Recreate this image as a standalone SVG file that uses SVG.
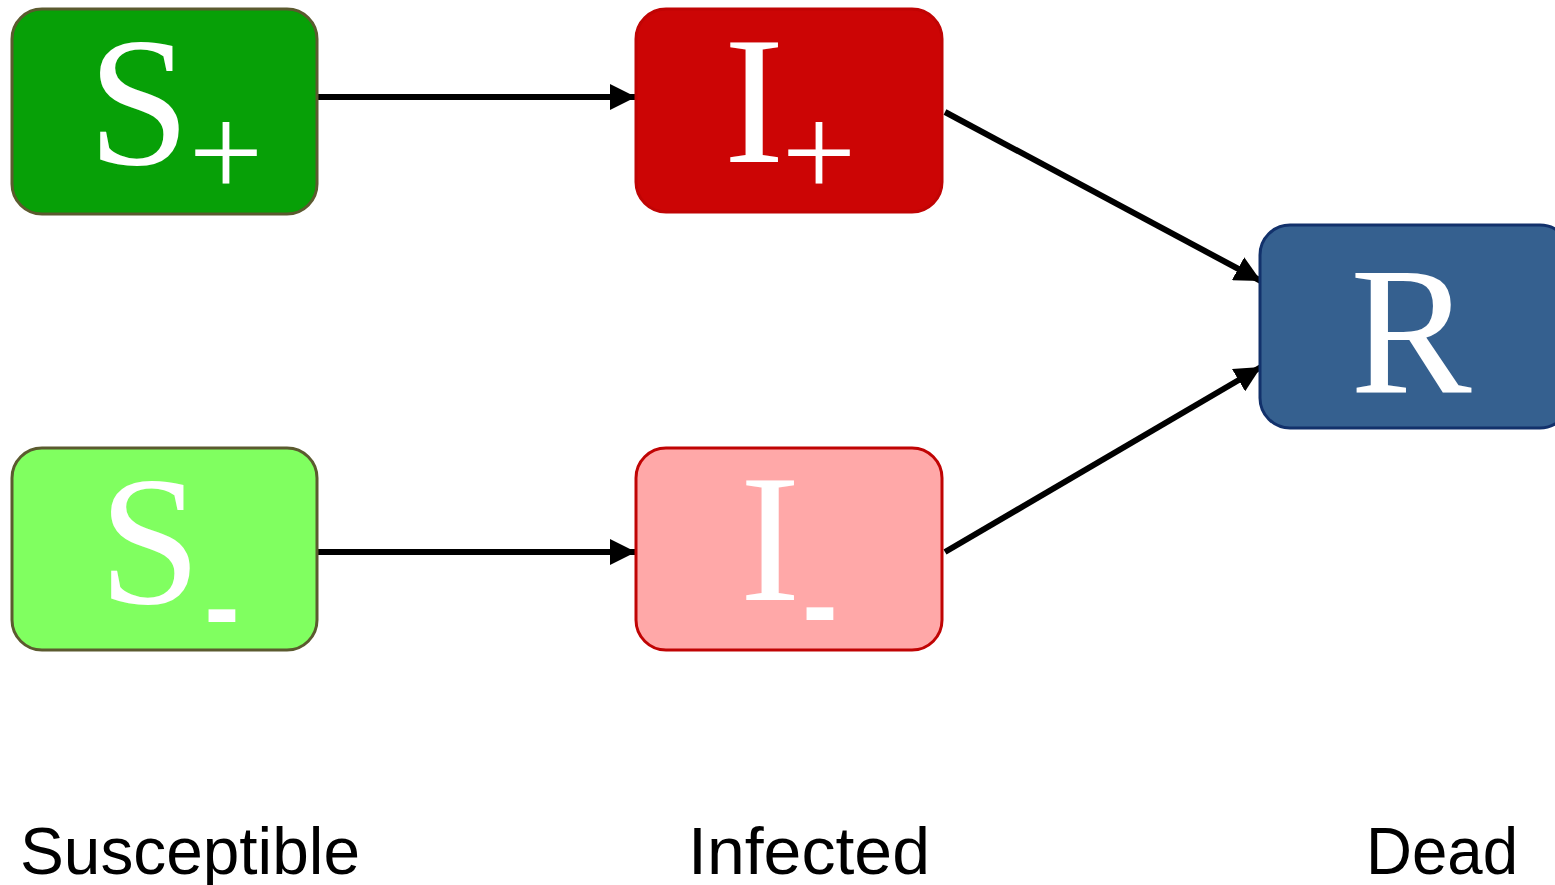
<svg xmlns="http://www.w3.org/2000/svg" width="1555" height="885" viewBox="0 0 1555 885">
  <style>
    .box { stroke-width: 3; }
    .big { font-family: "Liberation Serif", "Times New Roman", serif; fill: #ffffff; }
    .sub { font-family: "Liberation Sans", Arial, sans-serif; font-weight: bold; fill: #ffffff; }
    .lbl { font-family: "Liberation Sans", Arial, sans-serif; font-size: 67px; fill: #000000; }
    .conn { stroke: #000000; stroke-width: 6; fill: none; marker-end: url(#arrow); }
  </style>
  <defs>
    <marker id="arrow" markerUnits="userSpaceOnUse" markerWidth="28" markerHeight="26" refX="26" refY="13" orient="auto">
      <path d="M0,0 L26,13 L0,26 Z" fill="#000000"/>
    </marker>
  </defs>
  <rect width="1555" height="885" fill="#ffffff"/>

  <g id="connectors">
    <line class="conn" x1="318" y1="97" x2="636" y2="97"/>
    <line class="conn" x1="318" y1="552" x2="636" y2="552"/>
    <line class="conn" x1="945" y1="112" x2="1261" y2="281"/>
    <line class="conn" x1="945" y1="552" x2="1261" y2="367"/>
  </g>

  <g id="S_plus">
    <rect class="box" x="12" y="9" width="305" height="205" rx="30" fill="#07a007" stroke="#5b5a2f"/>
    <text class="big" x="139" y="164" font-size="184" text-anchor="middle">S</text>
    <text class="big" x="226" y="196" font-size="132" text-anchor="middle">+</text>
  </g>

  <g id="I_plus">
    <rect class="box" x="636" y="9" width="306" height="203" rx="30" fill="#cc0505" stroke="#c00404"/>
    <text class="big" x="754" y="162" font-size="182" text-anchor="middle">I</text>
    <text class="big" x="819" y="196" font-size="132" text-anchor="middle">+</text>
  </g>

  <g id="R">
    <rect class="box" x="1260" y="225" width="310" height="203" rx="30" fill="#35608f" stroke="#12316b"/>
    <text class="big" x="1411" y="392" font-size="182" text-anchor="middle">R</text>
  </g>

  <g id="S_minus">
    <rect class="box" x="12" y="448" width="305" height="202" rx="30" fill="#80ff60" stroke="#5b5a2f"/>
    <text class="big" x="150" y="603" font-size="184" text-anchor="middle">S</text>
    <text class="sub" x="222" y="643" font-size="105" text-anchor="middle">-</text>
  </g>

  <g id="I_minus">
    <rect class="box" x="636" y="448" width="306" height="202" rx="30" fill="#ffa8a8" stroke="#c00404"/>
    <text class="big" x="770" y="600" font-size="182" text-anchor="middle">I</text>
    <text class="sub" x="820" y="641" font-size="105" text-anchor="middle">-</text>
  </g>

  <g id="labels">
    <text class="lbl" x="20" y="874" textLength="340" lengthAdjust="spacingAndGlyphs">Susceptible</text>
    <text class="lbl" x="688" y="874" textLength="242" lengthAdjust="spacingAndGlyphs">Infected</text>
    <text class="lbl" x="1366" y="874" textLength="152" lengthAdjust="spacingAndGlyphs">Dead</text>
  </g>
</svg>
